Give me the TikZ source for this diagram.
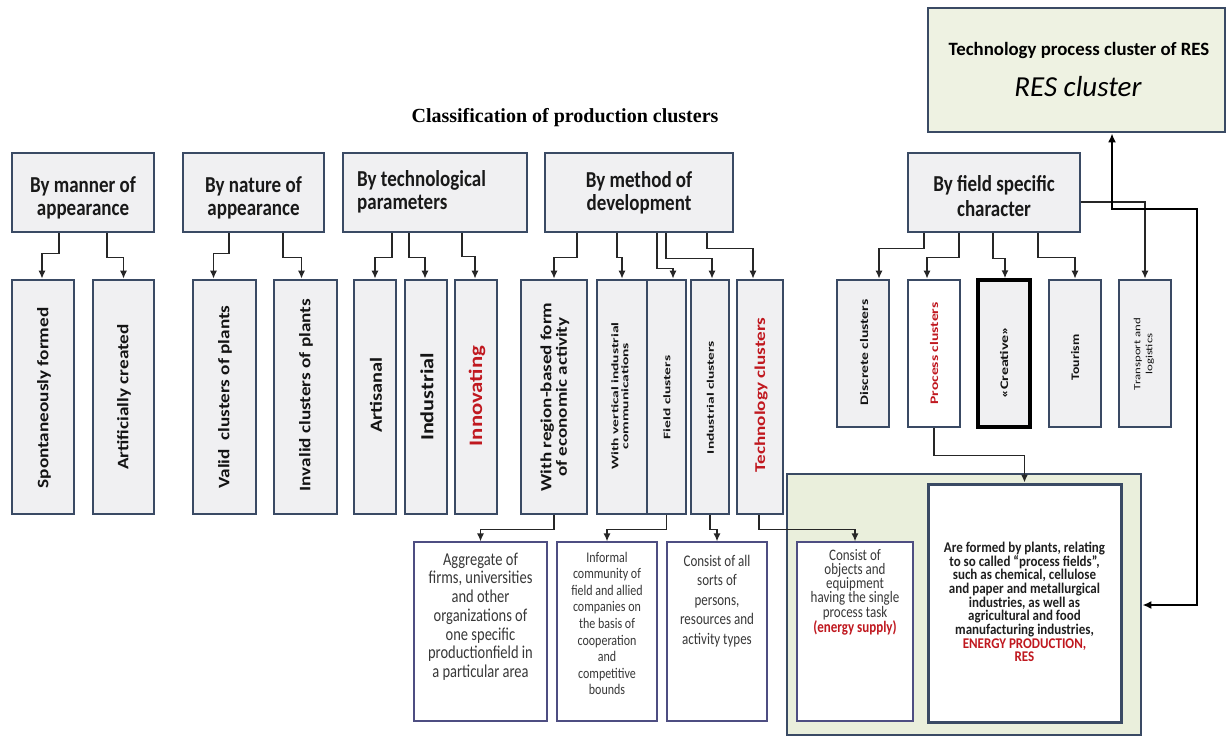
\documentclass[tikz,border=0pt]{standalone}
\usepackage{fontspec}
\setmainfont{Carlito}
\newfontfamily\titlefont{Liberation Serif}
\usetikzlibrary{arrows.meta}
\definecolor{bdr}{HTML}{3A4A64}
\definecolor{boxfill}{HTML}{F0F0F2}
\definecolor{greenfill}{HTML}{EAEFDC}
\definecolor{resfill}{HTML}{EEF2E2}
\definecolor{descbdr}{HTML}{4E4E82}
\definecolor{redtxt}{HTML}{C0181F}
\definecolor{desctxt}{HTML}{383838}
\newcommand\fsz[2]{\fontsize{#1}{#2}\selectfont}
\begin{document}
\begin{tikzpicture}[x=1pt,y=-1pt,
  sz/.style 2 args={minimum width=#1pt, minimum height=#2pt},
  catbox/.style={draw=bdr, line width=2.6pt, fill=boxfill, inner sep=0pt},
  hdrtxt/.style={font=\bfseries\fsz{19}{19}, align=center, yscale=1.2, inner sep=0pt, text=black!90},
  vtxt/.style={align=center, inner sep=0pt, text=black!92},
  desc/.style={draw=descbdr, line width=1.1pt, fill=white, inner sep=0pt},
  dtxt/.style={align=center, inner sep=0pt, text=desctxt},
  arr/.style={draw=black!85, line width=1.5pt, -{Latex[length=8pt,width=7pt]}},
  resarr/.style={draw=black, line width=2.2pt, {Latex[length=9pt,width=8pt]}-{Latex[length=9pt,width=8pt]}},
]
\fill[white] (0,0) rectangle (1228,736);
\useasboundingbox (0,0) rectangle (1228,736);

% title
\node[font=\titlefont\bfseries\fsz{20}{20}, inner sep=0pt] (title) at (565,118) {Classification of production clusters};

% RES box
\node[draw=bdr, line width=2.8pt, fill=resfill, sz={297}{124}] (res) at (1076.5,70) {};
\node[font=\bfseries\fsz{18.8}{18.8}, inner sep=0pt] (rest1) at (1079,50) {Technology process cluster of RES};
\node[font=\itshape\fsz{29}{29}, inner sep=0pt] (rest2) at (1078,87) {RES cluster};

% headers
\node[catbox, sz={142}{79}] (h1) at (83,192.5) {};
\node[catbox, sz={141}{79}] (h2) at (253.5,192.5) {};
\node[catbox, sz={184}{79}] (h3) at (435,192.5) {};
\node[catbox, sz={188}{79}] (h4) at (639,192.5) {};
\node[catbox, sz={172}{79}] (h5) at (994,192.5) {};
\node[hdrtxt] (h1t) at (83,198) {By manner of\\appearance};
\node[hdrtxt] (h2t) at (253.5,198) {By nature of\\appearance};
\node[hdrtxt, align=left, anchor=west] (h3t) at (357,192) {By technological\\parameters};
\node[hdrtxt] (h4t) at (639,193) {By method of\\development};
\node[hdrtxt, font=\bfseries\fsz{19}{21.5}] (h5t) at (994,196) {By field specific\\character};

% children (tall)
\node[catbox, sz={62}{234}] (c1) at (43,397) {};
\node[catbox, sz={61}{234}] (c2) at (123.5,397) {};
\node[catbox, sz={63}{234}] (c3) at (224.5,397) {};
\node[catbox, sz={63}{234}] (c4) at (305.5,397) {};
\node[catbox, sz={42}{234}] (c5) at (375,397) {};
\node[catbox, sz={42}{234}] (c6) at (426,397) {};
\node[catbox, sz={42}{234}] (c7) at (476,397) {};
\node[catbox, sz={66}{234}] (c8) at (554,397) {};
\node[catbox, sz={50}{234}] (c9) at (622,397) {};
\node[catbox, sz={39}{234}] (c10) at (666.5,397) {};
\node[catbox, sz={38}{234}] (c11) at (710,397) {};
\node[catbox, sz={46}{234}] (c12) at (760,397) {};

\node[vtxt, font=\bfseries\fsz{16}{16}, yscale=1.2, rotate=90] (c1t) at (44,398) {Spontaneously formed};
\node[vtxt, font=\bfseries\fsz{16}{16}, yscale=1.2, rotate=90] (c2t) at (124,397) {Artificially created};
\node[vtxt, font=\bfseries\fsz{16}{16}, yscale=1.2, rotate=90] (c3t) at (225,397) {Valid \ clusters of plants};
\node[vtxt, font=\bfseries\fsz{16}{16}, yscale=1.2, rotate=90] (c4t) at (306,395) {Invalid clusters of plants};
\node[vtxt, font=\bfseries\fsz{17}{17}, yscale=1.2, rotate=90] (c5t) at (376,395) {Artisanal};
\node[vtxt, font=\bfseries\fsz{18.5}{18.5}, yscale=1.2, rotate=90] (c6t) at (427,397) {Industrial};
\node[vtxt, font=\bfseries\fsz{19}{19}, yscale=1.2, rotate=90, text=redtxt] (c7t) at (477,396) {Innovating};
\node[vtxt, font=\bfseries\fsz{15.5}{15.5}, yscale=1.23, rotate=90] (c8t) at (555,397) {With region-based form\\of economic activity};
\node[vtxt, font=\bfseries\fsz{10}{10}, yscale=1.55, rotate=90] (c9t) at (620,396) {With vertical industrial\\communications};
\node[vtxt, font=\bfseries\fsz{10}{10}, yscale=1.55, rotate=90] (c10t) at (667,397.5) {Field clusters};
\node[vtxt, font=\bfseries\fsz{10}{10}, yscale=1.54, rotate=90] (c11t) at (710.5,397.5) {Industrial clusters};
\node[vtxt, font=\bfseries\fsz{15}{15}, yscale=1.28, rotate=90, text=redtxt] (c12t) at (761,395) {Technology clusters};

% field children
\node[catbox, sz={52}{147}] (d1) at (863,353.5) {};
\node[catbox, sz={52}{147}, fill=white] (d2) at (934,353.5) {};
\node[catbox, sz={52}{147}, draw=black, line width=3.4pt] (d3) at (1004,353.5) {};
\node[catbox, sz={52}{147}] (d4) at (1075,353.5) {};
\node[catbox, sz={52}{147}] (d5) at (1145,353.5) {};
\node[vtxt, font=\bfseries\fsz{11.5}{11.5}, yscale=1.36, rotate=90] (d1t) at (864,352.5) {Discrete clusters};
\node[vtxt, font=\bfseries\fsz{11.5}{11.5}, yscale=1.36, rotate=90, text=redtxt] (d2t) at (934,353.5) {Process clusters};
\node[vtxt, font=\bfseries\fsz{11.5}{11.5}, yscale=1.4, rotate=90] (d3t) at (1004,362.5) {«Creative»};
\node[vtxt, font=\bfseries\fsz{11.5}{11.5}, yscale=1.2, rotate=90] (d4t) at (1075,357.5) {Tourism};
\node[vtxt, font=\fsz{9.5}{12}, yscale=1.35, rotate=90] (d5t) at (1144,354) {Transport and\\logistics};

% green container and bottom boxes
\node[draw=bdr, line width=2.8pt, fill=greenfill, sz={354}{261}] (g) at (964,604.5) {};
\node[desc, sz={133}{179}] (b1) at (480.5,631.5) {};
\node[desc, sz={100}{179}] (b2) at (607,631.5) {};
\node[desc, sz={100}{179}] (b3) at (717,631.5) {};
\node[desc, sz={116}{179}] (b4) at (855,631.5) {};
\node[draw=bdr, line width=3pt, fill=white, sz={193}{238}] (b5) at (1024.5,603) {};

\node[dtxt, font=\fsz{14.5}{15}, yscale=1.25] (b1t) at (480.5,616.5) {Aggregate of\\firms, universities\\and other\\organizations of\\one specific\\productionfield in\\a particular area};
\node[dtxt, font=\fsz{12}{13.5}, yscale=1.23] (b2t) at (607,623.5) {Informal\\community of\\field and allied\\companies on\\the basis of\\cooperation\\and\\competitive\\bounds};
\node[dtxt, font=\fsz{13}{15.6}, yscale=1.25] (b3t) at (717,601) {Consist of all\\sorts of\\persons,\\resources and\\activity types};
\node[dtxt, font=\fsz{13}{11.5}, yscale=1.23] (b4t) at (855,592.5) {Consist of\\objects and\\equipment\\having the single\\process task\\\textcolor{redtxt}{\bfseries(energy supply)}};
\node[dtxt, font=\bfseries\fsz{13}{12}, yscale=1.14, text=black!88] (b5t) at (1024.5,602) {Are formed by plants, relating\\to so called “process fields”,\\such as chemical, cellulose\\and paper and metallurgical\\industries, as well as\\agricultural and food\\manufacturing industries,\\\textcolor{redtxt}{ENERGY PRODUCTION,}\\\textcolor{redtxt}{RES}};

% connectors header -> children
\draw[arr] ([xshift=-24pt]h1.south) -- ++(0,20) -| ([xshift=-1pt]c1.north);
\draw[arr] ([xshift=24pt]h1.south) -- ++(0,24) -| (c2.north);
\draw[arr] ([xshift=-24.5pt]h2.south) -- ++(0,20) -| ([xshift=-11pt]c3.north);
\draw[arr] ([xshift=29.5pt]h2.south) -- ++(0,24) -| ([xshift=-4pt]c4.north);
\draw[arr] ([xshift=-43pt]h3.south) -- ++(0,24) -| (c5.north);
\draw[arr] ([xshift=-26pt]h3.south) -- ++(0,24) -| ([xshift=-1pt]c6.north);
\draw[arr] ([xshift=27pt]h3.south) -- ++(0,23) -| ([xshift=-1pt]c7.north);
\draw[arr] ([xshift=-62pt]h4.south) -- ++(0,24) -| (c8.north);
\draw[arr] ([xshift=-22pt]h4.south) -- ++(0,24) -| (c9.north);
\draw[arr] ([xshift=18pt]h4.south) -- ++(0,35) -| ([xshift=6.5pt]c10.north);
\draw[arr] ([xshift=27pt]h4.south) -- ++(0,25) -| ([xshift=2pt]c11.north);
\draw[arr] ([xshift=68pt]h4.south) -- ++(0,15) -| ([xshift=-7pt]c12.north);
\draw[arr] ([xshift=-70pt]h5.south) -- ++(0,15) -| ([xshift=16pt]d1.north);
\draw[arr] ([xshift=-35pt]h5.south) -- ++(0,24) -| ([xshift=-7pt]d2.north);
\draw[arr] ([xshift=-1pt]h5.south) -- ++(0,25) -| ([xshift=1pt]d3.north);
\draw[arr] ([xshift=44pt]h5.south) -- ++(0,24) -| (d4.north);
\draw[arr] ([yshift=-9.5pt]h5.east) -| (d5.north);

% children -> descriptions
\draw[arr] (c8.south) -- ++(0,14) -| (b1.north);
\draw[arr] (c10.south) -- ++(0,14) -| (b2.north);
\draw[arr] (c11.south) -- ++(0,14) -| (b3.north);
\draw[arr] ([xshift=-1pt]c12.south) -- ++(0,14) -| (b4.north);
\draw[arr] (d2.south) -- ++(0,27) -| (b5.north);

% RES connector
\coordinate (k1) at (1112,209);
\coordinate (k2) at (1197,209);
\coordinate (k3) at (1197,605);
\draw[resarr] (res.south -| k1) -- (k1) -- (k2) -- (k3) -- (k3 -| g.east);
\end{tikzpicture}
\end{document}
